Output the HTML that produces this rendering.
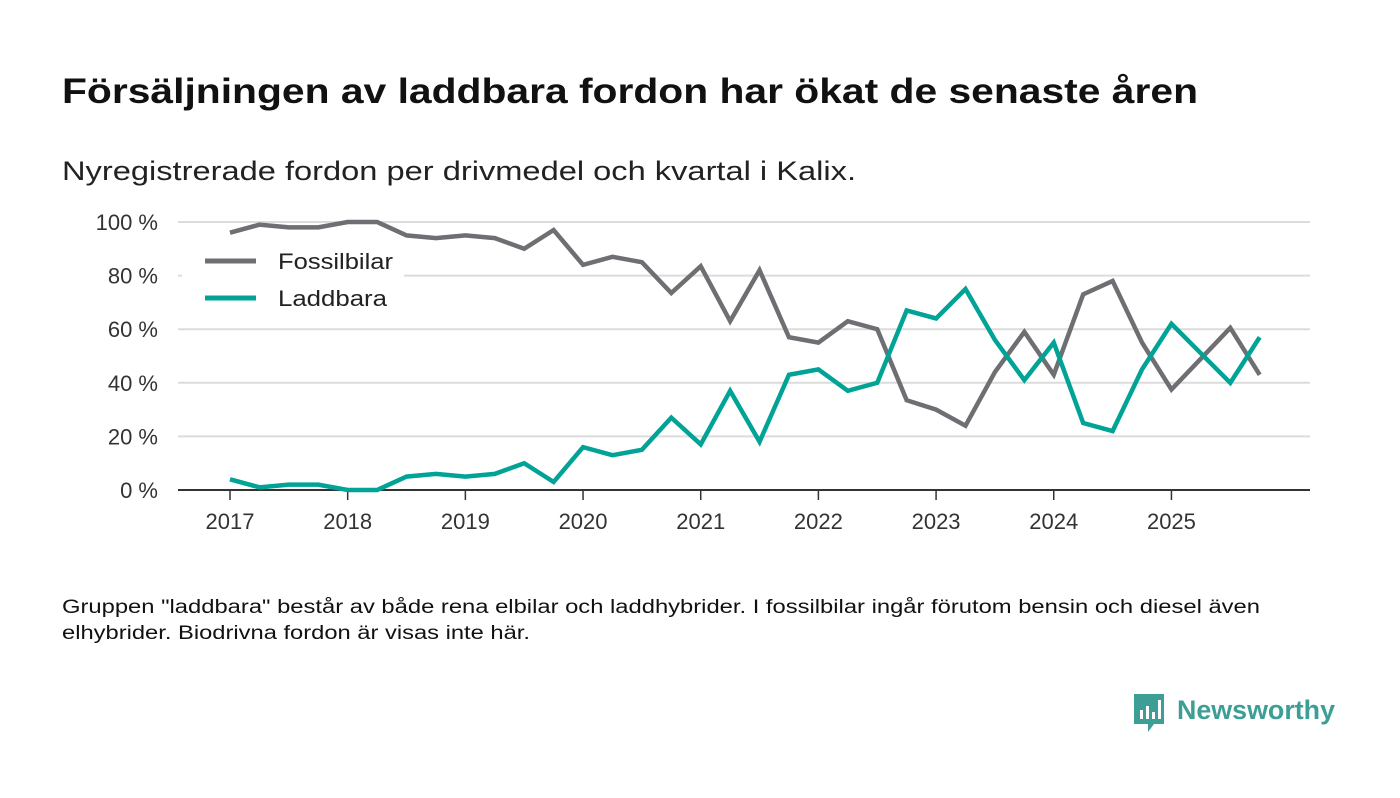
<!DOCTYPE html>
<html><head><meta charset="utf-8">
<style>
body{margin:0;background:#fff;width:1400px;height:793px;overflow:hidden;font-family:"Liberation Sans",sans-serif;color:#111;}
</style></head>
<body>
<svg width="1400" height="793" viewBox="0 0 1400 793" xmlns="http://www.w3.org/2000/svg">
<text x="62" y="103" font-size="35" font-weight="bold" fill="#111" textLength="1136" lengthAdjust="spacingAndGlyphs">Försäljningen av laddbara fordon har ökat de senaste åren</text>
<text x="62" y="180" font-size="27" fill="#222" textLength="794" lengthAdjust="spacingAndGlyphs">Nyregistrerade fordon per drivmedel och kvartal i Kalix.</text>
<g id="grid"></g>
<g id="yt"></g>
<g id="xt"></g>
<g id="lines"></g>
<rect x="182" y="238" width="222" height="78" fill="#fff"/>
<line x1="205" y1="261" x2="256" y2="261" stroke="#6f6e73" stroke-width="5"/>
<text x="278" y="269" font-size="22" fill="#222" textLength="115" lengthAdjust="spacingAndGlyphs">Fossilbilar</text>
<line x1="205" y1="298" x2="256" y2="298" stroke="#00a396" stroke-width="5"/>
<text x="278" y="306" font-size="22" fill="#222" textLength="109" lengthAdjust="spacingAndGlyphs">Laddbara</text>
<text x="62" y="613" font-size="19" fill="#111" textLength="1198" lengthAdjust="spacingAndGlyphs">Gruppen "laddbara" består av både rena elbilar och laddhybrider. I fossilbilar ingår förutom bensin och diesel även</text>
<text x="62" y="639" font-size="19" fill="#111" textLength="468" lengthAdjust="spacingAndGlyphs">elhybrider. Biodrivna fordon är visas inte här.</text>
<g>
<path d="M1134 694 h30 v30 h-10 l-6 8 v-8 h-14 z" fill="#3d9e95"/>
<rect x="1140" y="710" width="3" height="9" fill="#fff"/><rect x="1146" y="706" width="3" height="13" fill="#fff"/><rect x="1152" y="712" width="3" height="7" fill="#fff"/><rect x="1158" y="700" width="3" height="19" fill="#fff"/>
<text x="1177" y="719" font-size="27" font-weight="bold" fill="#3d9e95" textLength="158" lengthAdjust="spacingAndGlyphs">Newsworthy</text>
</g>
</svg>
<script>
const years=["2017","2018","2019","2020","2021","2022","2023","2024","2025"];
const yTicks=[0,20,40,60,80,100];
const fossil=[96,99,98,98,100,100,95,94,95,94,90,97,84,87,85,73.5,83.5,63,82,57,55,63,60,33.5,30,24,44,59,43,73,78,55,37.5,49,60.5,43];
const laddbara=[4,1,2,2,0,0,5,6,5,6,10,3,16,13,15,27,17,37,18,43,45,37,40,67,64,75,56,41,55,25,22,45,62,51,40,57];
const NS="http://www.w3.org/2000/svg";
const X=i=>230+i*29.42;
const Y=v=>490-v*2.68;
function mk(t,a,p){const e=document.createElementNS(NS,t);for(const k in a)e.setAttribute(k,a[k]);p.appendChild(e);return e;}
const g=document.getElementById('grid'),yt=document.getElementById('yt'),xt=document.getElementById('xt'),ln=document.getElementById('lines');
yTicks.forEach(v=>{
 if(v>0){const l=mk('line',{x1:178,x2:1310,y1:Y(v),y2:Y(v),stroke:'#dcdcdc','stroke-width':2},g);
 
 }
 const t=mk('text',{x:158,y:Y(v)+8,'text-anchor':'end','font-size':22,fill:'#333'},yt);t.textContent=v+' %';
 
 
});
const ax=mk('line',{x1:178,x2:1310,y1:490,y2:490,stroke:'#333','stroke-width':2},g);


years.forEach((y,i)=>{
 const x=X(i*4);
 const tk=mk('line',{x1:x,x2:x,y1:490,y2:500,stroke:'#333','stroke-width':1.5},xt);
 
 
 const t=mk('text',{x:x,y:529,'text-anchor':'middle','font-size':22,fill:'#333'},xt);t.textContent=y;
 
 
});
function line(d,c,n){
 const p=mk('polyline',{points:d.map((v,i)=>X(i)+','+Y(v)).join(' '),fill:'none',stroke:c,'stroke-width':4.5,'stroke-linejoin':'miter'},ln);
 
 
}
line(fossil,'#6f6e73','line-fossilbilar');
line(laddbara,'#00a396','line-laddbara');
</script>
</body></html>
